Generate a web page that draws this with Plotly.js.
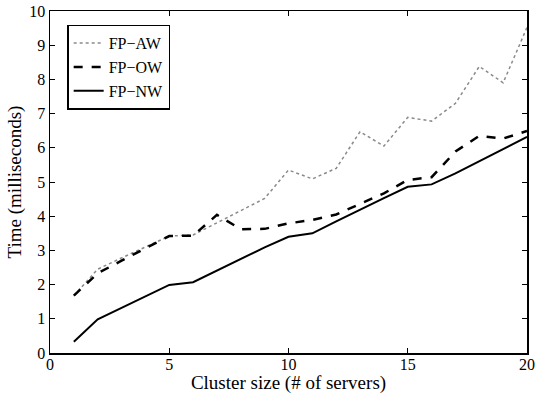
<!DOCTYPE html>
<html>
<head>
<meta charset="utf-8">
<script src="https://cdn.plot.ly/plotly-3.0.1.min.js"></script>
<style>html,body{margin:0;padding:0;background:#fff;}#chart{width:535px;height:394px;}</style>
</head>
<body>
<div id="chart"></div>
<script>
const clusterSize = [1,2,3,4,5,6,7,8,9,10,11,12,13,14,15,16,17,18,19,20];
const fpAW = [1.68,2.45,2.78,3.1,3.42,3.45,3.8,4.15,4.52,5.35,5.09,5.4,6.47,6.05,6.89,6.78,7.3,8.38,7.9,9.52];
const fpOW = [1.68,2.33,2.7,3.05,3.42,3.43,4.04,3.62,3.63,3.79,3.89,4.05,4.35,4.67,5.06,5.14,5.89,6.35,6.27,6.49];
const fpNW = [0.33,0.985,1.32,1.65,1.99,2.07,2.41,2.75,3.09,3.4,3.5,3.85,4.2,4.53,4.86,4.93,5.25,5.61,5.98,6.32];
const seriesNames = ["FP\u2212AW","FP\u2212OW","FP\u2212NW"];
const xTicks = [0,5,10,15,20];
const yTicks = [0,1,2,3,4,5,6,7,8,9,10];

const font = "Liberation Serif, Times New Roman, serif";
const traces = [
  {x: clusterSize, y: fpAW, name: seriesNames[0], mode: "lines", line: {color: "#8a8a8a", width: 1.5, dash: "dot"}},
  {x: clusterSize, y: fpOW, name: seriesNames[1], mode: "lines", line: {color: "#000", width: 2.5, dash: "dash"}},
  {x: clusterSize, y: fpNW, name: seriesNames[2], mode: "lines", line: {color: "#000", width: 2}}
];
const axisCommon = {
  showgrid: false, zeroline: false, showline: true, linecolor: "#000", linewidth: 1.5,
  mirror: "ticks", ticks: "inside", ticklen: 5, tickwidth: 1, tickcolor: "#000",
  tickfont: {family: font, size: 16, color: "#000"}
};
const layout = {
  width: 535, height: 394,
  margin: {l: 50, r: 8, t: 11, b: 41},
  paper_bgcolor: "#fff", plot_bgcolor: "#fff",
  font: {family: font, color: "#000"},
  xaxis: Object.assign({}, axisCommon, {
    range: [0, 20], tickmode: "array", tickvals: xTicks, ticktext: xTicks.map(String),
    ticklabelstandoff: -4,
    title: {text: "Cluster size (# of servers)", font: {family: font, size: 19, color: "#000"}, standoff: 0}
  }),
  yaxis: Object.assign({}, axisCommon, {
    range: [0, 10], tickmode: "array", tickvals: yTicks, ticktext: yTicks.map(String),
    title: {text: "Time (milliseconds)", font: {family: font, size: 19, color: "#000"}, standoff: 2}
  }),
  legend: {
    x: 0.036, y: 0.96, xanchor: "left", yanchor: "top",
    bgcolor: "#fff", bordercolor: "#000", borderwidth: 1.5,
    font: {family: font, size: 16, color: "#000"},
    tracegroupgap: 0, itemwidth: 30
  },
  showlegend: true
};
Plotly.newPlot("chart", traces, layout, {displayModeBar: false, staticPlot: true});
</script>
</body>
</html>
